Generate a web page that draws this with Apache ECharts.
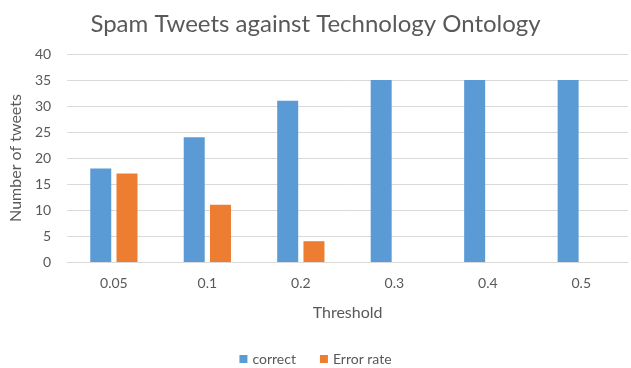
<!DOCTYPE html>
<html>
<head>
<meta charset="utf-8">
<script src="https://cdn.jsdelivr.net/npm/echarts@6/dist/echarts.min.js"></script>
<style>
  html, body { margin: 0; padding: 0; background: #fff; }
  #chart { width: 631px; height: 368px; }
</style>
</head>
<body>
<div id="chart"></div>
<script>
// data
var thresholds = ['0.05', '0.1', '0.2', '0.3', '0.4', '0.5'];
var correct = [18, 24, 31, 35, 35, 35];
var errorRate = [17, 11, 4, 0, 0, 0];

var myChart = echarts.init(document.getElementById('chart'));
myChart.setOption({
  animation: false,
  textStyle: { fontFamily: 'Lato' },
  title: {
    text: 'Spam Tweets against Technology Ontology',
    left: 'center',
    top: 7,
    textStyle: { color: '#595959', fontSize: 24, fontWeight: 'normal', fontFamily: 'Lato' }
  },
  legend: {
    top: 347,
    left: 'center',
    itemWidth: 8,
    itemHeight: 8,
    itemGap: 24,
    icon: 'rect',
    textStyle: { color: '#595959', fontSize: 14 },
    data: ['correct', 'Error rate']
  },
  grid: {
    left: 67,
    right: 3,
    top: 54,
    bottom: 106
  },
  xAxis: {
    type: 'category',
    data: thresholds,
    name: 'Threshold',
    nameLocation: 'middle',
    nameGap: 43,
    nameTextStyle: { color: '#595959', fontSize: 16 },
    axisTick: { show: false },
    axisLine: { lineStyle: { color: '#D9D9D9' } },
    axisLabel: { color: '#595959', fontSize: 14, margin: 14 }
  },
  yAxis: {
    type: 'value',
    min: 0,
    max: 40,
    interval: 5,
    name: 'Number of tweets',
    nameLocation: 'middle',
    nameGap: 42,
    nameTextStyle: { color: '#595959', fontSize: 16 },
    axisLine: { show: false },
    axisTick: { show: false },
    axisLabel: { color: '#595959', fontSize: 14, margin: 16 },
    splitLine: { lineStyle: { color: '#D9D9D9' } }
  },
  series: [
    {
      name: 'correct',
      type: 'bar',
      data: correct,
      barWidth: 21,
      barGap: '25%',
      itemStyle: { color: '#5B9BD5' }
    },
    {
      name: 'Error rate',
      type: 'bar',
      data: errorRate,
      barWidth: 21,
      barGap: '25%',
      itemStyle: { color: '#ED7D31' }
    }
  ]
});
</script>
</body>
</html>
